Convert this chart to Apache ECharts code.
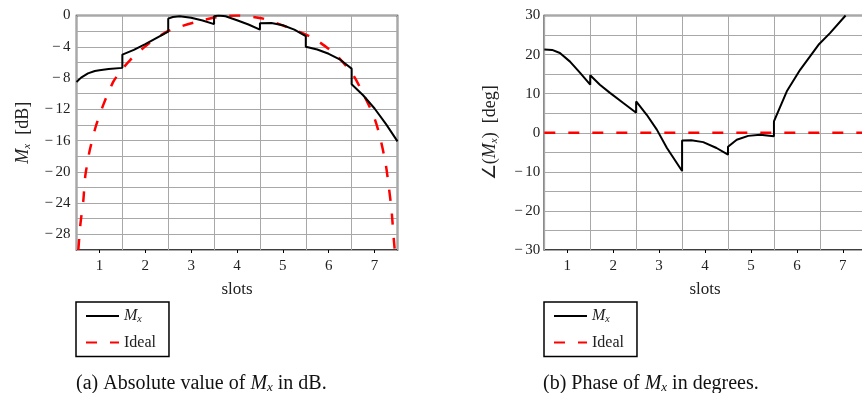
<!DOCTYPE html>
<html>
<head>
<meta charset="utf-8">
<script src="https://cdn.jsdelivr.net/npm/echarts@6/dist/echarts.min.js"></script>
<style>
html,body{margin:0;padding:0;background:#fff;}
#c{width:862px;height:393px;}
</style>
</head>
<body>
<div id="c"></div>
<script>
// ---- data ----
const xTickLabels = [1, 2, 3, 4, 5, 6, 7];
const magTickLabels = [0, -4, -8, -12, -16, -20, -24, -28];
const phaseTickLabels = [30, 20, 10, 0, -10, -20, -30];

// |Mx| in dB (slot boundaries give vertical jumps)
const magnitudeMx = [
  [0.5,-8.5],[0.6,-7.95],[0.75,-7.4],[0.9,-7.1],[1.0,-7.0],[1.2,-6.85],[1.5,-6.7],
  [1.5,-5.0],[1.75,-4.4],[2.0,-3.65],[2.25,-2.85],[2.5,-2.05],
  [2.5,-0.4],[2.6,-0.2],[2.75,-0.1],[3.0,-0.3],[3.25,-0.65],[3.5,-1.1],
  [3.5,-0.1],[3.6,0],[3.75,-0.1],[4.0,-0.6],[4.25,-1.15],[4.5,-1.8],
  [4.5,-1.0],[4.75,-0.95],[5.0,-1.25],[5.25,-1.8],[5.5,-2.65],
  [5.5,-4.0],[5.75,-4.35],[6.0,-4.9],[6.25,-5.65],[6.5,-6.8],
  [6.5,-8.8],[6.75,-10.2],[7.0,-11.9],[7.25,-13.9],[7.5,-16.1]
];
// Ideal magnitude in dB
const magnitudeIdeal = [
  [0.54,-30],[0.58,-27],[0.62,-25],[0.65,-23.6],[0.69,-20.6],[0.74,-18.8],[0.79,-17.2],[0.92,-14.2],
  [1.08,-11.5],[1.3,-8.5],[1.48,-7.0],[1.67,-5.7],[2.03,-3.8],[2.46,-2.1],
  [2.75,-1.45],[3.12,-0.8],[3.48,-0.3],[3.75,-0.05],[4.0,0],[4.25,-0.1],
  [4.57,-0.4],[5.08,-1.45],[5.66,-2.9],[6.17,-5.1],[6.53,-7.6],[6.75,-10],
  [6.97,-12.7],[7.1,-15.1],[7.24,-18.9],[7.31,-21.9],[7.37,-24.9],[7.42,-28.7],[7.44,-30]
];
// phase of Mx in degrees
const phaseMx = [
  [0.5,21.3],[0.67,21.2],[0.84,20.4],[1.06,18.2],[1.28,15.3],[1.5,12.3],
  [1.5,14.7],[1.71,12.3],[1.93,10.2],[2.22,7.6],[2.5,5.1],
  [2.5,8.0],[2.73,4.6],[2.95,0.8],[3.17,-3.9],[3.5,-9.8],
  [3.5,-2.0],[3.7,-1.9],[3.96,-2.4],[4.25,-3.9],[4.5,-5.6],
  [4.5,-3.6],[4.69,-1.8],[4.94,-0.8],[5.2,-0.5],[5.5,-0.9],
  [5.5,2.9],[5.78,10.6],[6.07,16.1],[6.47,22.5],[6.72,25.5],[7.06,30]
];
const phaseIdeal = [[0.5,0],[7.5,0]];

// ---- styles ----
const FONT = 'Liberation Serif';
const gridColor = '#a8a8a8';
const mathRich = {
  i: {fontFamily: FONT, fontStyle: 'italic', fontWeight: 'normal', fontSize: 18, color: '#222'},
  s: {fontFamily: FONT, fontStyle: 'italic', fontWeight: 'normal', fontSize: 11, color: '#222', padding: [7, 0, 0, 0]},
  t: {fontFamily: FONT, fontWeight: 'normal', fontSize: 18, color: '#222'}
};
const legRich = {
  i: {fontFamily: FONT, fontStyle: 'italic', fontSize: 16, color: '#222'},
  s: {fontFamily: FONT, fontStyle: 'italic', fontSize: 10, color: '#222', padding: [7, 0, 0, 0]}
};
const capRich = {
  t: {fontFamily: FONT, fontWeight: 'normal', fontSize: 20, color: '#111'},
  i: {fontFamily: FONT, fontStyle: 'italic', fontWeight: 'normal', fontSize: 20, color: '#111'},
  s: {fontFamily: FONT, fontStyle: 'italic', fontWeight: 'normal', fontSize: 13, color: '#111', padding: [8, 0, 0, 0]}
};
const minus = v => (v < 0 ? '\u2212\u2006' + Math.abs(v) : String(v));
const tickStyle = {color: '#000', width: 1};

function bottomAxis(gridIndex) {
  return {
    type: 'value', gridIndex, min: 0.5, max: 7.5, interval: 0.5, position: 'bottom',
    name: 'slots', nameLocation: 'middle', nameGap: 31,
    nameTextStyle: {fontFamily: FONT, fontSize: 17, color: '#222'},
    axisLine: {show: false, onZero: false},
    axisTick: {show: true, customValues: xTickLabels, length: 3, lineStyle: tickStyle},
    splitLine: {show: false},
    axisLabel: {
      margin: 9, fontFamily: FONT, fontSize: 15, color: '#222',
      formatter: v => (xTickLabels.indexOf(v) >= 0 ? String(v) : '')
    }
  };
}
function topAxis(gridIndex) {
  return {
    type: 'value', gridIndex, min: 0.5, max: 7.5, interval: 1, position: 'top',
    axisLine: {show: false, onZero: false}, axisTick: {show: false}, axisLabel: {show: false},
    splitLine: {show: true, lineStyle: {color: gridColor, width: 1}}
  };
}

const legendBase = {
  orient: 'vertical', top: 302, itemWidth: 33, itemHeight: 14, itemGap: 10,
  padding: [6, 13, 6, 9], borderColor: '#000', borderWidth: 1.5, backgroundColor: '#fff',
  itemStyle: {opacity: 0},
  textStyle: {fontFamily: FONT, fontSize: 16, color: '#222', rich: legRich},
  formatter: n => (n === 'Mx' ? '{i|M}{s|x}' : n),
  data: ['Mx', 'Ideal']
};

const option = {
  animation: false,
  backgroundColor: '#fff',
  title: [
    {left: 76, top: 373, text: '{t|(a) Absolute value of }{i|M}{s|x}{t| in dB.}', textStyle: {fontWeight: 'normal', rich: capRich}, padding: 0},
    {left: 543, top: 373, text: '{t|(b) Phase of }{i|M}{s|x}{t| in degrees.}', textStyle: {fontWeight: 'normal', rich: capRich}, padding: 0}
  ],
  legend: [
    Object.assign({}, legendBase, {left: 76}),
    Object.assign({}, legendBase, {left: 544})
  ],
  grid: [
    {left: 76.5, width: 321, top: 15.5, height: 234.5, outerBoundsMode: 'none', containLabel: false,
     show: true, borderColor: '#000', borderWidth: 1.5, backgroundColor: '#fff'},
    {left: 544.3, width: 321.5, top: 15.5, height: 234.5, outerBoundsMode: 'none', containLabel: false,
     show: true, borderColor: '#000', borderWidth: 1.5, backgroundColor: '#fff'}
  ],
  xAxis: [bottomAxis(0), topAxis(0), bottomAxis(1), topAxis(1)],
  yAxis: [
    {
      type: 'value', gridIndex: 0, min: -30, max: 0, interval: 2,
      name: '{i|M}{s|x}{t|  [dB]}', nameLocation: 'middle', nameGap: 44, nameRotate: 90,
      nameTextStyle: {rich: mathRich},
      axisLine: {show: false}, axisTick: {show: false},
      splitLine: {show: true, lineStyle: {color: gridColor, width: 1}},
      axisLabel: {
        margin: 6, fontFamily: FONT, fontSize: 15, color: '#222',
        formatter: v => (magTickLabels.indexOf(v) >= 0 ? minus(v) : '')
      }
    },
    {
      type: 'value', gridIndex: 1, min: -30, max: 30, interval: 5,
      name: '{t|\u2220(}{i|M}{s|x}{t|)  [deg]}', nameLocation: 'middle', nameGap: 45, nameRotate: 90,
      nameTextStyle: {rich: mathRich},
      axisLine: {show: false}, axisTick: {show: false},
      splitLine: {show: true, lineStyle: {color: gridColor, width: 1}},
      axisLabel: {
        margin: 4, fontFamily: FONT, fontSize: 15, color: '#222',
        formatter: v => (phaseTickLabels.indexOf(v) >= 0 ? minus(v) : '')
      }
    }
  ],
  series: [
    {name: 'Mx', type: 'line', xAxisIndex: 0, yAxisIndex: 0, data: magnitudeMx, showSymbol: false, symbol: 'none', clip: true,
     lineStyle: {color: '#000', width: 2}, itemStyle: {color: '#000'}, z: 4},
    {name: 'Ideal', type: 'line', xAxisIndex: 0, yAxisIndex: 0, data: magnitudeIdeal, showSymbol: false, symbol: 'none', clip: true,
     smooth: 0.25, lineStyle: {color: '#ff0000', width: 2.5, type: [11, 13]}, itemStyle: {color: '#ff0000'}, z: 3},
    {name: 'Mx', type: 'line', xAxisIndex: 2, yAxisIndex: 1, data: phaseMx, showSymbol: false, symbol: 'none', clip: true,
     lineStyle: {color: '#000', width: 2}, itemStyle: {color: '#000'}, z: 4},
    {name: 'Ideal', type: 'line', xAxisIndex: 2, yAxisIndex: 1, data: phaseIdeal, showSymbol: false, symbol: 'none', clip: true,
     lineStyle: {color: '#ff0000', width: 2.5, type: [11, 13]}, itemStyle: {color: '#ff0000'}, z: 3}
  ]
};

const chart = echarts.init(document.getElementById('c'), null, {renderer: 'canvas'});
chart.setOption(option);
</script>
</body>
</html>
